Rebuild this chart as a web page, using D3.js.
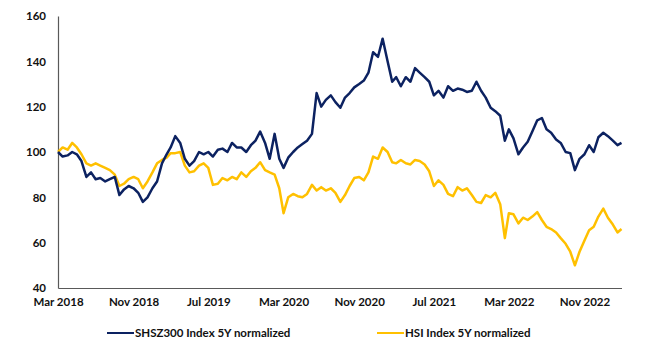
<!DOCTYPE html>
<html>
<head>
<meta charset="utf-8">
<script src="https://cdn.jsdelivr.net/npm/d3@7"></script>
<style>
  html, body { margin: 0; padding: 0; background: #fff; }
  text { font-family: Lato, "Open Sans", sans-serif; font-weight: bold; fill: #111; }
</style>
</head>
<body>
<div id="container"></div>
<script>
// semi-monthly observations, Mar 2018 -> Mar 2023
const seriesNames = ["SHSZ300 Index 5Y normalized", "HSI Index 5Y normalized"];
const seriesColors = ["#0c2261", "#ffc000"];

const shsz300 = [
  100, 98, 98.5, 100, 99, 96, 89, 91, 88, 88.5,
  87, 88, 89, 81, 83.5, 85, 84, 82, 78, 80,
  84, 87, 95, 99, 102, 107, 104, 97, 94, 96,
  100, 99, 100, 98, 101, 101.5, 100, 104, 102, 102,
  100, 103, 105, 109, 104, 97, 108, 97, 93, 97.5,
  100, 102, 103.5, 105, 108, 126, 120, 123, 125, 122,
  119.5, 124, 126, 128.5, 130, 131.5, 135, 144, 142, 150,
  140, 131, 133, 129, 133, 131, 137, 135, 133, 131,
  125, 127, 124, 129, 127, 128, 127.5, 126.5, 127, 131,
  127, 124, 119.5, 118, 116, 105, 110, 106, 99, 102,
  104.5, 109, 114, 115, 110, 108.5, 105.5, 104, 100, 99.5,
  92, 97, 99, 103, 100, 106.5, 108.5, 107, 105, 103,
  104
];

const hsi = [
  100, 102, 101, 104, 102, 99, 95, 94, 95, 94,
  93, 92, 90, 85, 86, 88, 89, 88, 84, 87,
  91, 95, 96.5, 97.5, 99.5, 99.5, 100, 94, 91, 91.5,
  94, 95, 93, 85.5, 86, 88.5, 87.5, 89, 88, 91,
  89, 91.5, 93, 95.5, 92, 91, 90, 84, 73, 80,
  81.5, 80.5, 80, 81.5, 85.5, 83, 84.5, 83, 84, 82,
  78, 81, 85, 88.5, 89, 87.5, 91, 98, 97, 102,
  100, 95.5, 95, 96.5, 95, 94.5, 96.5, 96, 94.5, 91.5,
  85, 87.5, 85.5, 81.5, 80.5, 84.5, 83, 84, 81, 78,
  77.5, 81, 80, 82, 77, 62, 73, 72.5, 68.5, 71,
  70, 71.5, 73.5, 70, 67, 66, 64.5, 62, 59.5, 56,
  50, 56, 61, 65.5, 67, 71.5, 75, 71, 68, 64.5,
  66
];

const xTickLabels = ["Mar 2018", "Nov 2018", "Jul 2019", "Mar 2020", "Nov 2020", "Jul 2021", "Mar 2022", "Nov 2022"];
const xTickDates = ["2018-03-01", "2018-11-01", "2019-07-01", "2020-03-01", "2020-11-01", "2021-07-01", "2022-03-01", "2022-11-01"];
const yTicks = [40, 60, 80, 100, 120, 140, 160];

const width = 650, height = 350;
const parse = d3.timeParse("%Y-%m-%d");

const months = d3.timeMonth.range(new Date(2018, 2, 1), new Date(2023, 2, 2));
const dates = months.flatMap(m => [m, d3.timeDay.offset(m, 15)]).slice(0, shsz300.length);

const x = d3.scaleTime()
  .domain([new Date(2018, 2, 1), new Date(2023, 2, 1)])
  .range([58, 621.5]);
const y = d3.scaleLinear()
  .domain([40, 160])
  .range([288, 16]);

const svg = d3.create("svg")
  .attr("width", width)
  .attr("height", height)
  .attr("viewBox", [0, 0, width, height]);

// axes
const xAxis = d3.axisBottom(x)
  .tickValues(xTickDates.map(parse))
  .tickFormat((d, i) => xTickLabels[i])
  .tickSize(0)
  .tickPadding(10);
const gx = svg.append("g")
  .attr("transform", `translate(0,${y(40)})`)
  .call(xAxis);
gx.select(".domain").attr("stroke", "#595959").attr("stroke-width", 1.2);
gx.selectAll("text").attr("font-size", 11.5).style("font-family", "Lato, sans-serif");

const yAxis = d3.axisLeft(y)
  .tickValues(yTicks)
  .tickSize(0)
  .tickPadding(12);
const gy = svg.append("g")
  .attr("transform", `translate(${x.range()[0]},0)`)
  .call(yAxis);
gy.select(".domain").attr("stroke", "#595959").attr("stroke-width", 1.2);
gy.selectAll("text").attr("font-size", 11.5).style("font-family", "Lato, sans-serif");

// lines (gold first so navy sits on top where they cross)
const line = d3.line()
  .x((d, i) => x(dates[i]))
  .y(d => y(d));

[[hsi, seriesColors[1]], [shsz300, seriesColors[0]]].forEach(([vals, c]) => {
  svg.append("path")
    .datum(vals)
    .attr("fill", "none")
    .attr("stroke", c)
    .attr("stroke-width", 2.5)
    .attr("stroke-linejoin", "round")
    .attr("d", line);
});

// legend
const legendX = [107, 377];
seriesNames.forEach((name, i) => {
  const g = svg.append("g").attr("transform", `translate(${legendX[i]},333)`);
  g.append("line")
    .attr("x1", 0).attr("x2", 27)
    .attr("y1", 0).attr("y2", 0)
    .attr("stroke", seriesColors[i])
    .attr("stroke-width", 2);
  g.append("text")
    .attr("x", 28)
    .attr("y", 4)
    .attr("font-size", 11.5)
    .text(name);
});

document.getElementById("container").append(svg.node());
</script>
</body>
</html>
